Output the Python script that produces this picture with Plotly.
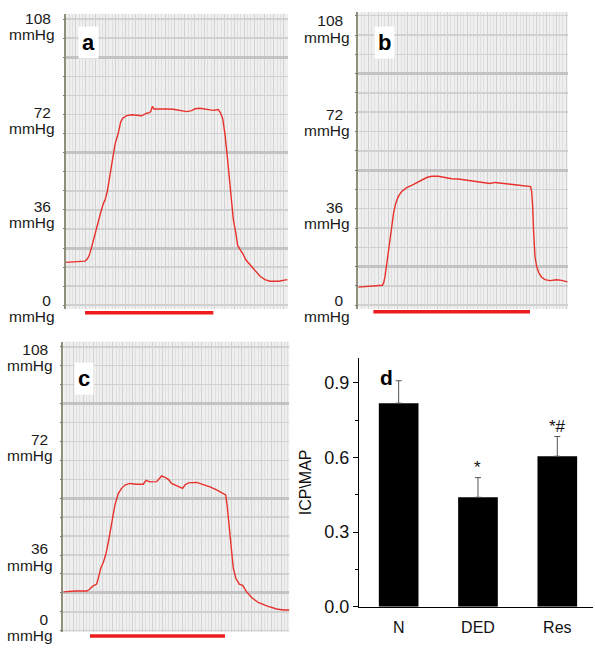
import plotly.graph_objects as go

W, H = 595, 654
FONT = "Arial, Liberation Sans, sans-serif"

# ---------------- data ----------------
# panel a: ICP trace (time in s, pressure in mmHg)
a_time = [0, 10.8, 19.2, 21.5, 23.6, 25.9, 28.6, 31.6, 35.0, 37.7, 39.7, 41.7, 44.4, 47.1, 49.5,
          52.9, 55.2, 57.2, 61.3, 66.3, 71.4, 76.4, 81.5, 84.2, 85.5, 87.2, 88.9, 95.0, 101.7,
          108.4, 115.2, 121.9, 126.9, 130.3, 135.4, 142.1, 148.8, 153.9, 156.2, 158.3, 160.6,
          163.0, 165.0, 167.4, 169.0, 171.4, 173.4, 175.8, 178.5, 181.8, 185.9, 190.9, 196.0,
          201.0, 206.1, 214.5, 223.6]
a_icp = [14.7, 15.0, 15.2, 16.0, 17.5, 20.6, 24.7, 28.7, 33.7, 37.2, 38.9, 41.8, 48.7, 55.5, 59.9,
         64.3, 68.4, 69.9, 70.9, 71.2, 70.9, 70.8, 71.8, 72.0, 72.4, 74.4, 73.4, 73.5, 73.4,
         73.3, 72.9, 72.4, 72.8, 73.5, 73.7, 73.4, 72.9, 73.2, 71.8, 69.7, 63.7,
         54.9, 46.2, 36.2, 31.2, 26.2, 21.2, 19.7, 18.1, 15.6, 13.7, 11.5, 9.4,
         8.1, 7.5, 7.5, 8.1]
a_stim = [19.2, 148.8]

# panel b
b_time = [0, 9.1, 18.5, 24.3, 25.6, 27.0, 28.6, 30.4, 32.0, 33.7, 35.7, 37.7, 40.4, 43.8, 48.9,
          53.9, 59.0, 64.0, 69.1, 74.1, 80.8, 87.5, 94.3, 101.0, 107.7, 114.4, 121.2, 127.9,
          133.0, 138.0, 144.8, 151.5, 158.2, 165.0, 171.7, 174.1, 175.1, 176.1, 177.1, 178.5,
          180.2, 182.5, 185.2, 188.6, 193.6, 200.3, 205.4, 211.4]
b_icp = [5.3, 5.5, 5.8, 6.0, 6.9, 9.4, 13.9, 18.9, 24.2, 29.0, 34.0, 37.5, 40.3, 42.2, 43.7,
         44.6, 45.6, 46.6, 47.6, 48.1, 48.1, 47.6, 47.1, 47.0, 46.6, 46.3, 46.0, 45.6,
         45.3, 45.7, 45.5, 45.1, 44.8, 44.6, 44.3, 44.1, 42.2, 36.5, 26.4, 17.0,
         13.2, 10.7, 9.1, 8.2, 7.8, 8.1, 7.9, 7.3]
b_stim = [15.2, 173.4]

# panel c
c_time = [0, 11.8, 23.6, 26.3, 29.7, 33.7, 35.4, 37.8, 40.4, 43.1, 45.8, 48.8, 52.2, 55.6, 58.9,
          62.3, 67.3, 74.1, 80.8, 83.5, 87.5, 94.3, 97.0, 99.3, 102.7, 106.1, 109.4, 114.5,
          120.5, 122.9, 126.3, 134.7, 141.4, 148.2, 154.9, 161.6, 164.0, 165.6, 167.7, 169.7,
          171.7, 174.4, 177.8, 181.1, 185.2, 190.2, 196.9, 205.4, 215.5, 222.2, 228.3]
c_icp = [12.3, 12.6, 12.6, 13.2, 14.5, 15.3, 17.6, 21.4, 23.6, 27.0, 32.1, 39.0, 45.9, 50.3, 52.2,
         53.5, 54.1, 53.8, 53.8, 55.3, 54.7, 54.8, 56.0, 57.0, 56.4, 55.7, 54.1, 53.1,
         52.2, 53.5, 54.3, 54.5, 53.7, 52.8, 51.6, 50.3, 49.7, 45.3, 36.5, 27.7,
         21.4, 17.4, 15.3, 14.8, 12.3, 10.1, 8.2, 6.9, 5.7, 5.3, 5.3]
c_stim = [27.0, 163.3]

# pressure tick labels (c has its labels pasted at uneven heights)
tick_text = ["0", "36", "72", "108"]
a_tickvals = [0, 36, 72, 108]
b_tickvals = [0, 36, 72, 108]
c_tickvals = [1.8, 28.8, 71.1, 105.6]

# recorder grid (heavy lines / light line spacing) per panel
a_heavy0, a_step = 20.2, 7.3
b_heavy0, b_step = 13.2, 7.45
c_heavy0, c_step = 11.9, 7.3

# panel d: bar chart
groups = ["N", "DED", "Res"]
ratio = [0.818, 0.44, 0.605]
ratio_err = [0.09, 0.079, 0.079]
sig = ["", "*", "*#"]

# ---------------- layout helpers ----------------
def dx(l, r):
    return [l / W, r / W]

def dy(top, bottom):
    return [1 - bottom / H, 1 - top / H]

# pixel geometry of trace panels
panels = [
    dict(name="a", t=a_time, v=a_icp, stim=a_stim, tv=a_tickvals, h0=a_heavy0, st=a_step,
         l=66, r=288, top=10, bot=311.5, zero=303.3, k=2.67, lab=56, bar=315.5, box=(88.5, 39)),
    dict(name="b", t=b_time, v=b_icp, stim=b_stim, tv=b_tickvals, h0=b_heavy0, st=b_step,
         l=358.3, r=567.7, top=8.3, bot=311.5, zero=303.3, k=2.647, lab=351, bar=314.5, box=(384, 39)),
    dict(name="c", t=c_time, v=c_icp, stim=c_stim, tv=c_tickvals, h0=c_heavy0, st=c_step,
         l=63.3, r=289.3, top=345, bot=641.7, zero=633.3, k=2.65, lab=54, bar=645.7, box=(83.5, 382.5)),
]

fig = go.Figure()
layout = dict(
    width=W, height=H, margin=dict(l=0, r=0, t=0, b=0),
    paper_bgcolor="white", plot_bgcolor="white", showlegend=False,
    font=dict(family=FONT, color="#1a1a1a"),
)
annotations = []
shapes = []

for i, p in enumerate(panels):
    n = i + 1
    xs = "" if n == 1 else str(n)
    yid_grid = n + 10
    xname = "x" + xs
    yname = "y" + xs
    ygname = "y" + str(yid_grid)

    fig.add_trace(go.Scatter(x=p["t"], y=p["v"], mode="lines",
                             line=dict(color="#e8312b", width=1.4),
                             xaxis=xname, yaxis=yname, hoverinfo="skip"))
    xr = [0, (p["r"] - p["l"]) / 0.99]
    yr = [-(p["bot"] - p["zero"]) / p["k"], (p["zero"] - p["top"]) / p["k"]]

    # recorder paper background
    shapes.append(dict(type="rect", xref=xname + " domain", yref=yname + " domain",
                       x0=0, x1=1, y0=0, y1=1, layer="below",
                       fillcolor="#efefef", line=dict(width=0)))

    layout["xaxis" + xs] = dict(
        domain=dx(p["l"], p["r"]), range=xr, anchor=yname,
        showticklabels=False, ticks="", zeroline=False, showline=False,
        showgrid=True, tick0=0, dtick=10, gridcolor="#d2d2d2", gridwidth=1,
        minor=dict(showgrid=True, dtick=10 / 3, gridcolor="#e0e0e0", gridwidth=1),
    )
    layout["yaxis" + xs] = dict(
        domain=dy(p["top"], p["bot"]), range=yr, anchor=xname,
        tickmode="array", tickvals=p["tv"], ticktext=tick_text,
        tickfont=dict(size=15.5, family=FONT, color="#1a1a1a"),
        ticks="", ticklabelstandoff=10, showgrid=False, zeroline=False,
        showline=True, linecolor="#8f8f7c", linewidth=2,
    )
    layout["yaxis" + str(yid_grid)] = dict(
        overlaying=yname, anchor=xname, range=yr, side="left",
        showticklabels=False, zeroline=False, showline=False,
        tickmode="linear", tick0=p["h0"], dtick=5 * p["st"],
        showgrid=True, gridcolor="#c3c3c3", gridwidth=3,
        ticks="outside", ticklen=2, tickcolor="#777",
        minor=dict(tickmode="linear", tick0=p["h0"], dtick=p["st"], showgrid=True,
                   gridcolor="#d0d0d0", gridwidth=1.5, ticks="outside", ticklen=2, tickcolor="#777"),
    )
    # invisible helper trace so the grid axis is drawn
    fig.add_trace(go.Scatter(x=[p["t"][0]], y=[p["v"][0]], mode="markers",
                             marker=dict(opacity=0), xaxis=xname, yaxis=ygname, hoverinfo="skip"))

    # stimulation bar just below the recording
    ybar = (p["bot"] - p["bar"]) / (p["bot"] - p["top"])
    shapes.append(dict(type="line", xref=xname, yref=yname + " domain",
                       x0=p["stim"][0], x1=p["stim"][1], y0=ybar, y1=ybar,
                       line=dict(color="#ee1c1c", width=3.5)))
    # unit labels under each number
    for tv in p["tv"]:
        annotations.append(dict(text="mmHg", xref="paper", x=p["lab"] / W, xanchor="right",
                                yref=yname, y=tv, yanchor="middle", yshift=-16, showarrow=False,
                                borderpad=0,
                                font=dict(size=15.5, family=FONT, color="#1a1a1a")))
    # panel letter
    annotations.append(dict(text="<b>%s</b>" % p["name"], xref="paper", yref="paper",
                            x=p["box"][0] / W, y=1 - p["box"][1] / H, xanchor="center", yanchor="middle",
                            showarrow=False, bgcolor="white", borderpad=3,
                            font=dict(size=22, family=FONT, color="black")))

# ---------------- panel d ----------------
fig.add_trace(go.Bar(
    x=groups, y=ratio, width=0.5, marker=dict(color="black", line=dict(width=0)),
    error_y=dict(type="data", array=ratio_err, arrayminus=[0] * len(ratio_err), symmetric=False,
                 color="#555", thickness=1, width=3),
    xaxis="x4", yaxis="y4", hoverinfo="skip"))

layout["xaxis4"] = dict(
    domain=dx(359, 593), anchor="y4", type="category", range=[-0.5, 2.45],
    showline=True, linecolor="black", linewidth=1, ticks="", showgrid=False,
    tickfont=dict(size=16, family=FONT, color="#111"), ticklabelstandoff=6,
)
layout["yaxis4"] = dict(
    domain=dy(616 - 254.4, 616), anchor="x4", range=[0, 1.0],
    tickmode="linear", tick0=0, dtick=0.3, tickformat=".1f",
    ticks="outside", ticklen=5, tickcolor="black",
    minor=dict(tickmode="linear", tick0=0.15, dtick=0.3, ticks="outside", ticklen=3, tickcolor="black"),
    showline=True, linecolor="black", linewidth=1, showgrid=False, zeroline=False,
    tickfont=dict(size=18, family=FONT, color="#111"),
    title=dict(text="ICP\\MAP", font=dict(size=16, family=FONT, color="#111"), standoff=8),
)
for g, v, e, s in zip(groups, ratio, ratio_err, sig):
    if s:
        annotations.append(dict(text=s, x=g, y=v + e, xref="x4", yref="y4", yanchor="bottom",
                                yshift=-1, showarrow=False,
                                font=dict(size=17, family=FONT, color="#111")))
annotations.append(dict(text="<b>d</b>", xref="paper", yref="paper", x=386 / W, y=1 - 382 / H,
                        xanchor="center", yanchor="middle", showarrow=False,
                        font=dict(size=21, family=FONT, color="black")))

layout["annotations"] = annotations
layout["shapes"] = shapes
fig.update_layout(**layout)
fig.write_html("out.html", config={"displayModeBar": False, "staticPlot": True},
               post_script="document.body.style.margin='0';")
